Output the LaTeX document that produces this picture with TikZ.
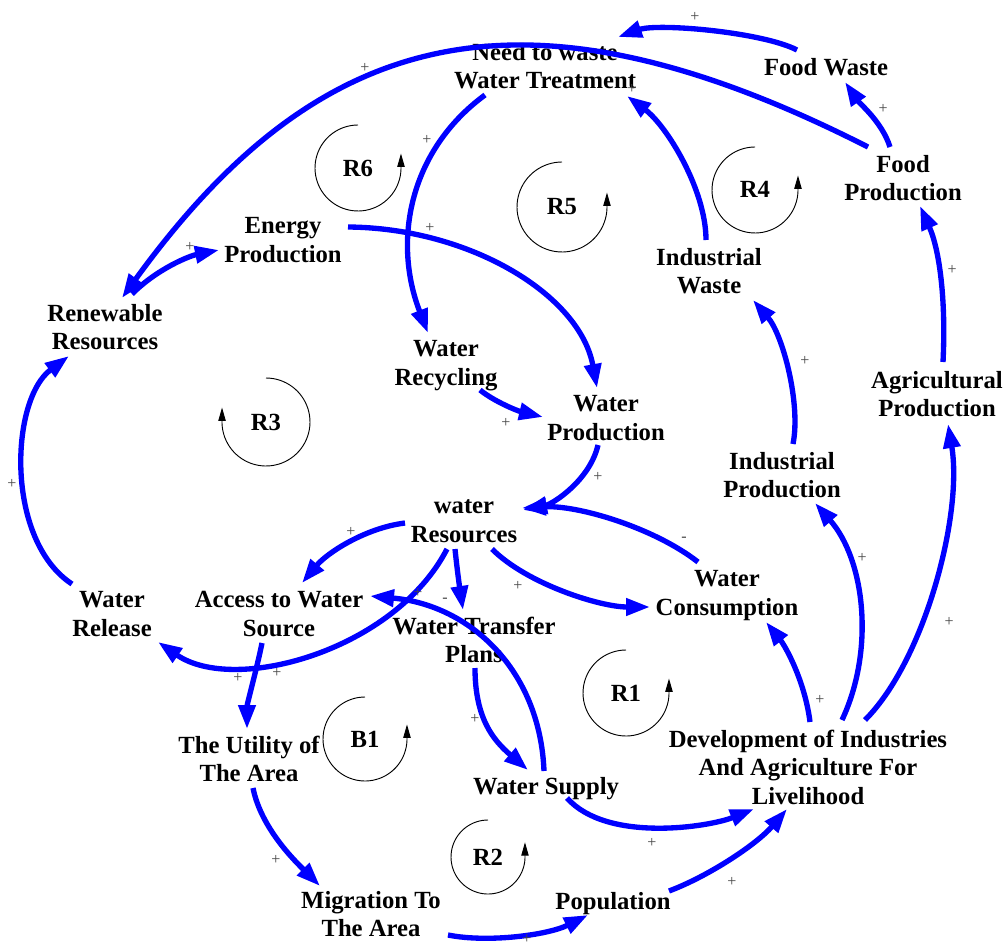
\documentclass[tikz,border=0pt]{standalone}
\usepackage{fontspec}
\setmainfont{Liberation Serif}
\usetikzlibrary{arrows.meta,calc}

\definecolor{linkblue}{RGB}{0,0,255}
\definecolor{signgray}{RGB}{70,70,70}

\begin{document}
\begin{tikzpicture}[x=0.75pt,y=-0.75pt,
  var/.style={align=center,inner sep=0pt,text depth=0pt,font=\bfseries\fontsize{18.5}{21.4}\selectfont},
  link/.style={draw=linkblue,line width=4pt,-{Triangle[length=18pt,width=12.5pt]}},
  loopmark/.style={draw=black,line width=0.7pt,-{Triangle[length=10pt,width=5.5pt]}},
  looplabel/.style={inner sep=0pt,font=\bfseries\fontsize{18.5}{21.4}\selectfont},
  sign/.style={text=signgray,inner sep=0pt,font=\fontsize{12}{14}\selectfont}]

\useasboundingbox (0,0) rectangle (1006,949);
\fill[white] (0,0) rectangle (1006,949);

% variables
\node[var] (nwwt)     at (545,66)  {Need to waste\\Water Treatment};
\node[var] (fwaste)   at (826,67)  {Food Waste};
\node[var] (fprod)    at (903,178) {Food\\Production};
\node[var] (energy)   at (283,240) {Energy\\Production};
\node[var] (renew)    at (105,327) {Renewable\\Resources};
\node[var] (iwaste)   at (709,271) {Industrial\\Waste};
\node[var] (recyc)    at (446,363) {Water\\Recycling};
\node[var] (wprod)    at (606,418) {Water\\Production};
\node[var] (agri)     at (937,394) {Agricultural\\Production};
\node[var] (iprod)    at (782,475) {Industrial\\Production};
\node[var] (wres)     at (464,521) {water\\Resources};
\node[var] (consum)   at (727,593) {Water\\Consumption};
\node[var] (release)  at (112,614) {Water\\Release};
\node[var] (access)   at (279,614) {Access to Water\\Source};
\node[var] (transfer) at (474,640) {Water Transfer\\Plans};
\node[var] (utility)  at (249,759) {The Utility of\\The Area};
\node[var] (supply)   at (546,786) {Water Supply};
\node[var] (devel)    at (808,767) {Development of Industries\\And Agriculture For\\Livelihood};
\node[var] (migr)     at (371,914) {Migration To\\The Area};
\node[var] (popu)     at (613,901) {Population};

% causal links
\draw[link] ($(fwaste)+(-29,-17)$) .. controls +(-35,-18) and +(40,-14) .. ($(nwwt)+(73,-29)$);
\draw[link] ($(fprod)+(-35,-31)$) .. controls +(-348,-177) and +(195,-269) .. ($(renew)+(17,-29)$);
\draw[link] ($(fprod)+(-13,-31)$) .. controls +(-8,-25) and +(15,22) .. ($(fwaste)+(19,15)$);
\draw[link] ($(agri)+(6,-32)$) .. controls +(3,-60) and +(20,45) .. ($(fprod)+(17,28)$);
\draw[link] ($(devel)+(57,-47)$) .. controls +(60,-60) and +(15,90) .. ($(agri)+(11,30)$);
\draw[link] ($(devel)+(34,-47)$) .. controls +(33,-70) and +(50,57) .. ($(iprod)+(33,28)$);
\draw[link] ($(iprod)+(11,-31)$) .. controls +(8,-40) and +(30,35) .. ($(iwaste)+(44,29)$);
\draw[link] ($(iwaste)+(-3,-31)$) .. controls +(0,-50) and +(40,30) .. ($(nwwt)+(82,30)$);
\draw[link] ($(nwwt)+(-60,29)$) .. controls +(-75,55) and +(-36,-93) .. ($(recyc)+(-18,-30)$);
\draw[link] ($(energy)+(65,-13)$) .. controls +(122,1) and +(-17,-93) .. ($(wprod)+(-9,-30)$);
\draw[link] ($(renew)+(27,-33)$) .. controls +(25,-25) and +(-30,6) .. ($(energy)+(-64,10)$);
\draw[link] ($(release)+(-40,-30)$) .. controls +(-67,-44) and +(-59,44) .. ($(renew)+(-36,29)$);
\draw[link] ($(recyc)+(34,27)$) .. controls +(15,12) and +(-25,-6) .. ($(wprod)+(-63,-1)$);
\draw[link] ($(wprod)+(-8,27)$) .. controls +(-8,35) and +(30,-6) .. ($(wres)+(59,-11)$);
\draw[link] ($(consum)+(-29,-31)$) .. controls +(-45,-35) and +(55,-3) .. ($(wres)+(58,-13)$);
\draw[link] ($(wres)+(28,28)$) .. controls +(35,35) and +(-50,0) .. ($(consum)+(-77,14)$);
\draw[link] ($(wres)+(-59,2)$) .. controls +(-40,5) and +(25,-30) .. ($(access)+(23,-31)$);
\draw[link] ($(wres)+(-9,28)$) .. controls +(2,20) and +(-3,-20) .. ($(transfer)+(-11,-30)$);
\draw[link] ($(wres)+(-17,28)$) .. controls +(-52,101) and +(77,53) .. ($(release)+(46,28)$);
\draw[link] ($(access)+(-17,29)$) .. controls +(-5,25) and +(0,-25) .. ($(utility)+(-2,-30)$);
\draw[link] ($(supply)+(-2,-15)$) .. controls +(-4,-101) and +(100,9) .. ($(access)+(91,-18)$);
\draw[link] ($(transfer)+(1,28)$) .. controls +(0,50) and +(-35,-30) .. ($(supply)+(-18,-16)$);
\draw[link] ($(supply)+(21,12)$) .. controls +(40,45) and +(-45,18) .. ($(devel)+(-54,42)$);
\draw[link] ($(utility)+(4,29)$) .. controls +(8,40) and +(-25,-25) .. ($(migr)+(-51,-28)$);
\draw[link] ($(migr)+(77,21)$) .. controls +(40,8) and +(-40,20) .. ($(popu)+(-25,14)$);
\draw[link] ($(popu)+(56,-10)$) .. controls +(40,-15) and +(-30,35) .. ($(devel)+(-21,42)$);
\draw[link] ($(devel)+(2,-45)$) .. controls +(-5,-40) and +(20,25) .. ($(consum)+(39,29)$);

% link polarities
\node[sign] (p1)  at (695,17)  {+};
\node[sign] (p2)  at (365,68)  {+};
\node[sign] (p3)  at (883,109) {+};
\node[sign] (p4)  at (952,270) {+};
\node[sign] (p5)  at (949,622) {+};
\node[sign] (p6)  at (862,558) {+};
\node[sign] (p7)  at (805,361) {+};
\node[sign] (p8)  at (632,89)  {+};
\node[sign] (p9)  at (427,140) {+};
\node[sign] (p10) at (430,228) {+};
\node[sign] (p11) at (190,247) {+};
\node[sign] (p12) at (12,484)  {+};
\node[sign] (p13) at (506,423) {+};
\node[sign] (p14) at (598,477) {+};
\node[sign] (p15) at (684,539) {-};
\node[sign] (p16) at (518,586) {+};
\node[sign] (p17) at (351,532) {+};
\node[sign] (p18) at (445,600) {-};
\node[sign] (p19) at (418,593) {+};
\node[sign] (p20) at (238,678) {+};
\node[sign] (p21) at (277,673) {+};
\node[sign] (p22) at (475,719) {+};
\node[sign] (p23) at (652,843) {+};
\node[sign] (p24) at (276,860) {+};
\node[sign] (p25) at (527,939) {+};
\node[sign] (p26) at (732,882) {+};
\node[sign] (p27) at (820,700) {+};

% loop markers
\draw[loopmark] plot[domain=-90:-358,samples=60] ({358+43*cos(\x)},{168+43*sin(\x)}) -- ++(0,-16);
\node[looplabel] (r6) at (358,168) {R6};
\draw[loopmark] plot[domain=-90:-358,samples=60] ({562+45*cos(\x)},{207+45*sin(\x)}) -- ++(0,-16);
\node[looplabel] (r5) at (562,207) {R5};
\draw[loopmark] plot[domain=-90:-358,samples=60] ({755+43*cos(\x)},{190+43*sin(\x)}) -- ++(0,-16);
\node[looplabel] (r4) at (755,189) {R4};
\draw[loopmark] plot[domain=-90:178,samples=60] ({266+44*cos(\x)},{422+44*sin(\x)}) -- ++(0,-16);
\node[looplabel] (r3) at (266,422) {R3};
\draw[loopmark] plot[domain=-90:-358,samples=60] ({365+42*cos(\x)},{739+42*sin(\x)}) -- ++(0,-16);
\node[looplabel] (b1) at (365,739) {B1};
\draw[loopmark] plot[domain=-90:-358,samples=60] ({626+43*cos(\x)},{693+43*sin(\x)}) -- ++(0,-16);
\node[looplabel] (r1) at (626,693) {R1};
\draw[loopmark] plot[domain=-90:-358,samples=60] ({488+37*cos(\x)},{857+37*sin(\x)}) -- ++(0,-16);
\node[looplabel] (r2) at (488,857) {R2};

\end{tikzpicture}
\end{document}
